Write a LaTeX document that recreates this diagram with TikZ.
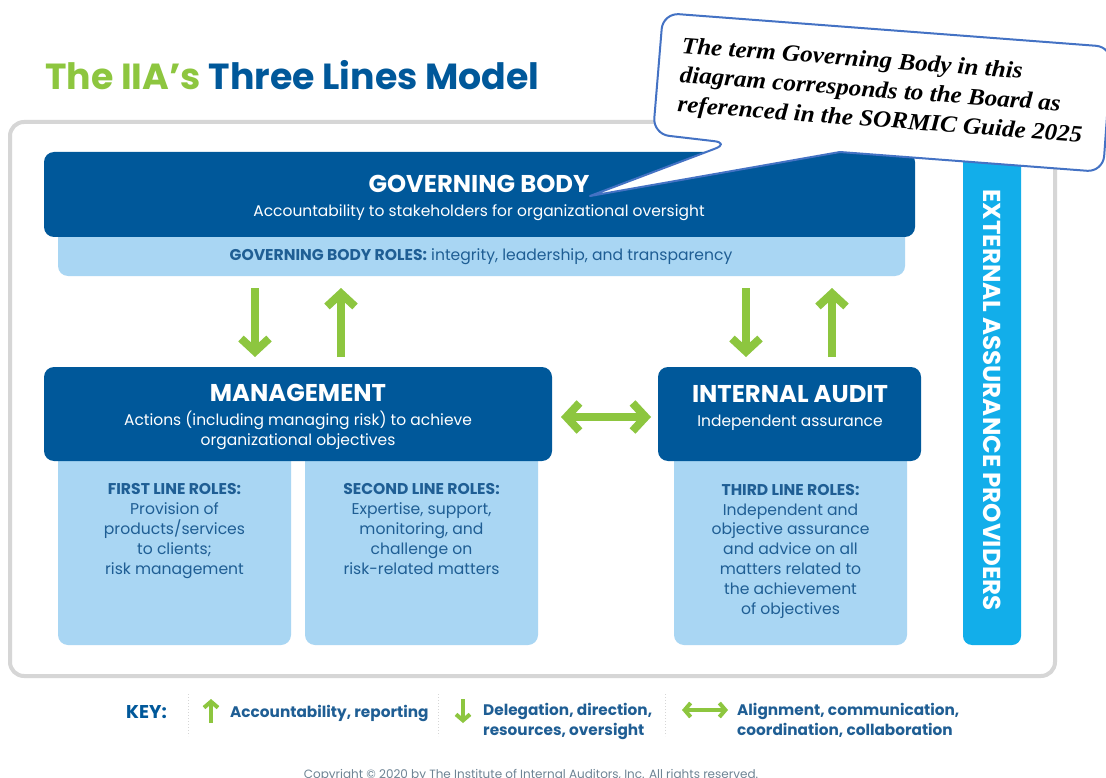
\documentclass[tikz,border=0pt]{standalone}
\usepackage{fontspec}
\setmainfont{Poppins}
\newfontfamily\notefont[FakeStretch=1.07]{Liberation Serif}
\usetikzlibrary{arrows.meta}

\definecolor{iiadark}{HTML}{00589A}
\definecolor{iialight}{HTML}{A9D6F3}
\definecolor{iiatext}{HTML}{1F5E94}
\definecolor{iiagreen}{HTML}{8DC63F}
\definecolor{iiacyan}{HTML}{12AEEA}
\definecolor{iiaframe}{HTML}{D6D6D6}
\definecolor{iiagrey}{HTML}{6E8494}
\definecolor{noteline}{HTML}{4472C4}

\newcommand\fsz[2]{\fontsize{#1}{#2}\selectfont}

\begin{document}
\begin{tikzpicture}[x=1pt,y=-1pt,
  darkbox/.style={fill=iiadark, rounded corners=10pt, inner sep=0pt},
  lightbox/.style={fill=iialight, rounded corners=10pt, inner sep=0pt},
  headtxt/.style={inner sep=0pt, text=white, font=\fsz{24.3}{28}\bfseries},
  subtxt/.style={inner sep=0pt, text=white, font=\fsz{15.5}{20}, align=center},
  roletxt/.style={inner sep=0pt, text=iiatext, font=\fsz{15.6}{19.8}, align=center},
  garrow/.style={draw=iiagreen, line width=8pt,
    -{Straight Barb[length=13pt, width=28pt]}},
  gdouble/.style={draw=iiagreen, line width=8pt,
    {Straight Barb[length=13pt, width=28pt]}-{Straight Barb[length=13pt, width=28pt]}},
  keyarrow/.style={draw=iiagreen, line width=4pt,
    -{Straight Barb[length=6pt, width=14pt]}},
  keydouble/.style={draw=iiagreen, line width=4pt,
    {Straight Barb[length=6pt, width=14pt]}-{Straight Barb[length=6pt, width=14pt]}},
  keytxt/.style={inner sep=0pt, text=iiatext, font=\fsz{15.3}{19.5}\bfseries, align=left},
  keysep/.style={draw=iiaframe, line width=1pt, dotted}
]
\useasboundingbox (0,0) rectangle (1106,778);
\fill[white] (0,0) rectangle (1106,778);

% title
\node[anchor=base west, inner sep=0pt, font=\fsz{36.3}{42}\bfseries] (title) at (45,90)
  {\textcolor{iiagreen}{The IIA’s} \textcolor{iiadark}{Three Lines Model}};

% outer frame
\node[draw=iiaframe, line width=4pt, rounded corners=14pt, minimum width=1045pt,
  minimum height=554pt, inner sep=0pt] (frame) at (532.5,399) {};

% external assurance bar
\node[fill=iiacyan, rounded corners=9pt, minimum width=58pt, minimum height=505pt,
  inner sep=0pt] (ext) at (992,392.5) {};
\node[rotate=-90, inner sep=0pt, text=white, font=\fsz{24.5}{28}\bfseries] (extt)
  at (992,400) {EXTERNAL ASSURANCE PROVIDERS};

% light role panels (drawn first, tucked under the dark boxes)
\node[lightbox, minimum width=847pt, minimum height=56pt] (gbroles) at (481.5,248) {};
\node[lightbox, minimum width=233pt, minimum height=195pt] (first) at (174.5,547.5) {};
\node[lightbox, minimum width=233pt, minimum height=195pt] (second) at (421.5,547.5) {};
\node[lightbox, minimum width=233pt, minimum height=195pt] (third) at (790.5,547.5) {};

% dark boxes
\node[darkbox, minimum width=871pt, minimum height=85pt] (gb) at (479.5,194.5) {};
\node[darkbox, minimum width=508pt, minimum height=94pt] (mgmt) at (298,414) {};
\node[darkbox, minimum width=263pt, minimum height=94pt] (ia) at (789.5,414) {};

% box texts (anchor=base sits on the last line of a block)
\node[headtxt, anchor=base] (gbh) at (479,193) {GOVERNING BODY};
\node[subtxt, anchor=base] (gbs) at (479,217)
  {Accountability to stakeholders for organizational oversight};
\node[roletxt, anchor=base] (gbr) at (481,261)
  {\textbf{GOVERNING BODY ROLES:} integrity, leadership, and transparency};

\node[headtxt, anchor=base] (mgh) at (298,401) {MANAGEMENT};
\node[subtxt, anchor=base] (mgs) at (298,445)
  {Actions (including managing risk) to achieve\\organizational objectives};

\node[headtxt, anchor=base] (iah) at (790,402) {INTERNAL AUDIT};
\node[subtxt, anchor=base] (ias) at (790,426) {Independent assurance};

\node[roletxt, anchor=base] (firstt) at (174.5,574)
  {\textbf{FIRST LINE ROLES:}\\Provision of\\products/services\\to clients;\\risk management};
\node[roletxt, anchor=base] (secondt) at (421.5,574)
  {\textbf{SECOND LINE ROLES:}\\Expertise, support,\\monitoring, and\\challenge on\\risk-related matters};
\node[roletxt, anchor=base] (thirdt) at (790.5,614)
  {\textbf{THIRD LINE ROLES:}\\Independent and\\objective assurance\\and advice on all\\matters related to\\the achievement\\of objectives};

% arrows between governing body and the lines
\coordinate (a1s) at (255,288); \coordinate (a1e) at (255,357);
\coordinate (a2s) at (341,357); \coordinate (a2e) at (341,288);
\coordinate (a3s) at (746,288); \coordinate (a3e) at (746,357);
\coordinate (a4s) at (832,357); \coordinate (a4e) at (832,288);
\draw[garrow] (a1s) -- (a1e);
\draw[garrow] (a2s) -- (a2e);
\draw[garrow] (a3s) -- (a3e);
\draw[garrow] (a4s) -- (a4e);
\coordinate (hl) at (561,417); \coordinate (hr) at (651,417);
\draw[gdouble] (hl) -- (hr);

% key
\node[keytxt, anchor=base west, text=iiadark, font=\fsz{18.5}{20}\bfseries] (key) at (126,718) {KEY:};
\coordinate (s1t) at (188,694); \coordinate (s1b) at (188,736);
\coordinate (s2t) at (438,694); \coordinate (s2b) at (438,736);
\coordinate (s3t) at (665,694); \coordinate (s3b) at (665,736);
\draw[keysep] (s1t) -- (s1b);
\draw[keysep] (s2t) -- (s2b);
\draw[keysep] (s3t) -- (s3b);
\coordinate (k1s) at (211,723); \coordinate (k1e) at (211,699);
\draw[keyarrow] (k1s) -- (k1e);
\node[keytxt, anchor=base west] (k1t) at (230,717) {Accountability, reporting};
\coordinate (k2s) at (463,699); \coordinate (k2e) at (463,723);
\draw[keyarrow] (k2s) -- (k2e);
\node[keytxt, anchor=base west] (k2t) at (483,735) {Delegation, direction,\\resources, oversight};
\coordinate (k3s) at (682,710); \coordinate (k3e) at (728,710);
\draw[keydouble] (k3s) -- (k3e);
\node[keytxt, anchor=base west] (k3t) at (737,735) {Alignment, communication,\\coordination, collaboration};

% copyright line
\node[anchor=base, inner sep=0pt, text=iiagrey, font=\fsz{12}{14}] (copy) at (531,778)
  {Copyright © 2020 by The Institute of Internal Auditors, Inc. All rights reserved.};

% callout note
\draw[fill=white, draw=noteline, line width=2pt, line join=round]
  (730,143) -- (590,196) -- (840,152) [rounded corners=16pt] -- (1103,172)
  -- (1112,47) -- (663,13) -- (653,134) -- cycle;
\node[rotate=-4.3, inner sep=0pt, align=left, font=\notefont\fsz{23.5}{29.5}\bfseries\itshape]
  (note) at (882,92)
  {The term Governing Body in this\\diagram corresponds to the Board as\\referenced in the SORMIC Guide 2025};
\end{tikzpicture}
\end{document}
